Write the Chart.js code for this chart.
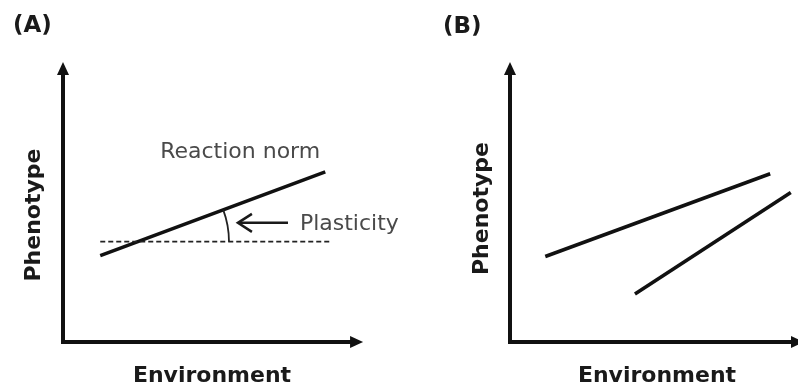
<!DOCTYPE html>
<html>
<head>
<meta charset="utf-8">
<script src="https://cdn.jsdelivr.net/npm/chart.js@4.4.1/dist/chart.umd.min.js"></script>
<style>
  html, body { margin: 0; padding: 0; width: 798px; height: 387px; overflow: hidden; background: #fff; }
  canvas { position: absolute; left: 0; top: 0; }
</style>
</head>
<body>
<canvas id="panelA" width="798" height="387"></canvas>
<canvas id="panelB" width="820" height="387"></canvas>
<script>
// Panel A: a single reaction norm against a flat (non-plastic) reference
const normEnv = [1.25, 8.8];
const normPheno = [3.4, 6.7];
const flatEnv = [1.25, 8.95];
const flatPheno = [3.95, 3.95];

// Panel B: two genotypes with different reaction norms
const genoOneEnv = [1.2, 8.85];
const genoOnePheno = [3.2, 6.3];
const genoTwoEnv = [4.25, 9.55];
const genoTwoPheno = [1.8, 5.6];

const axisTitles = ['Environment', 'Phenotype'];
const panelLabels = ['(A)', '(B)'];
const noteTexts = ['Reaction norm', 'Plasticity'];

Chart.defaults.font.family = '"DejaVu Sans", sans-serif';

const toPoints = (xs, ys) => xs.map((v, i) => ({ x: v, y: ys[i] }));

const segment = (xs, ys, extra = {}) => Object.assign({
  data: toPoints(xs, ys),
  showLine: true,
  borderColor: '#111',
  borderWidth: 3.6,
  pointRadius: 0,
  borderCapStyle: 'butt',
  fill: false
}, extra);

// Axis lines with arrowheads, plus the panel letter
const axesArrows = {
  id: 'axesArrows',
  beforeDatasetsDraw(chart, args, opts) {
    const { ctx, chartArea: a, scales: { x, y } } = chart;
    const head = 13, half = 6;
    const topY = y.getPixelForValue(opts.yEnd);
    const rightX = x.getPixelForValue(opts.xEnd);
    ctx.save();
    ctx.strokeStyle = '#111';
    ctx.fillStyle = '#111';
    ctx.lineWidth = 4;
    ctx.lineJoin = 'miter';
    ctx.beginPath();
    ctx.moveTo(a.left, topY + head - 1);
    ctx.lineTo(a.left, a.bottom);
    ctx.lineTo(rightX - head + 1, a.bottom);
    ctx.stroke();
    ctx.beginPath();
    ctx.moveTo(a.left, topY);
    ctx.lineTo(a.left - half, topY + head);
    ctx.lineTo(a.left + half, topY + head);
    ctx.closePath();
    ctx.fill();
    ctx.beginPath();
    ctx.moveTo(rightX, a.bottom);
    ctx.lineTo(rightX - head, a.bottom - half);
    ctx.lineTo(rightX - head, a.bottom + half);
    ctx.closePath();
    ctx.fill();
    ctx.fillStyle = '#1a1a1a';
    ctx.font = 'bold 23px "DejaVu Sans"';
    ctx.textAlign = 'left';
    ctx.textBaseline = 'middle';
    ctx.fillText(opts.label, opts.labelX, opts.labelY);
    ctx.restore();
  }
};

// Angle between the reaction norm and the flat reference, with its labels
const plasticityNote = {
  id: 'plasticityNote',
  afterDatasetsDraw(chart, args, opts) {
    const { ctx, scales: { x, y } } = chart;
    const x0 = x.getPixelForValue(normEnv[0]), y0 = y.getPixelForValue(normPheno[0]);
    const x1 = x.getPixelForValue(normEnv[1]), y1 = y.getPixelForValue(normPheno[1]);
    const yf = y.getPixelForValue(flatPheno[0]);
    const t = (yf - y0) / (y1 - y0);
    const cx = x0 + t * (x1 - x0);
    const r = x.getPixelForValue(opts.arcAt) - cx;
    const ang = Math.atan2(y1 - y0, x1 - x0);
    ctx.save();
    ctx.strokeStyle = '#222';
    ctx.lineWidth = 1.8;
    ctx.beginPath();
    ctx.arc(cx, yf, r, ang, 0, false);
    ctx.stroke();

    // pointer arrow
    const tipX = x.getPixelForValue(opts.arrowFrom[0]);
    const tailX = x.getPixelForValue(opts.arrowTo[0]);
    const ay = y.getPixelForValue(opts.arrowFrom[1]);
    ctx.strokeStyle = '#1a1a1a';
    ctx.lineWidth = 2.5;
    ctx.lineCap = 'butt';
    ctx.beginPath();
    ctx.moveTo(tailX, ay);
    ctx.lineTo(tipX + 1, ay);
    ctx.stroke();
    ctx.beginPath();
    ctx.moveTo(tipX + 14, ay - 9);
    ctx.lineTo(tipX, ay);
    ctx.lineTo(tipX + 14, ay + 9);
    ctx.stroke();

    ctx.fillStyle = '#4a4a4a';
    ctx.font = '22px "DejaVu Sans"';
    ctx.textAlign = 'left';
    ctx.textBaseline = 'alphabetic';
    ctx.fillText(noteTexts[0], x.getPixelForValue(opts.normLabel[0]), y.getPixelForValue(opts.normLabel[1]));
    ctx.fillText(noteTexts[1], x.getPixelForValue(opts.plastLabel[0]), y.getPixelForValue(opts.plastLabel[1]));
    ctx.restore();
  }
};

const titleFont = { family: '"DejaVu Sans"', size: 22, weight: 'bold', lineHeight: 1 };

function makeScales(yPad) {
  return {
    x: {
      type: 'linear', min: 0, max: 10,
      grid: { display: false, drawTicks: false },
      ticks: { display: false },
      border: { display: false },
      title: { display: true, text: axisTitles[0], font: titleFont, color: '#1a1a1a', padding: { top: 23, bottom: 0 } }
    },
    y: {
      type: 'linear', min: 0, max: 10,
      grid: { display: false, drawTicks: false },
      ticks: { display: false },
      border: { display: false },
      title: { display: true, text: axisTitles[1], font: titleFont, color: '#1a1a1a', padding: { top: 23, bottom: yPad } }
    }
  };
}

const common = {
  responsive: false,
  animation: false,
  events: [],
  plugins: { legend: { display: false }, tooltip: { enabled: false } }
};

new Chart(document.getElementById('panelA'), {
  type: 'scatter',
  data: {
    datasets: [
      segment(flatEnv, flatPheno, { borderColor: '#222', borderWidth: 1.8, borderDash: [5, 3] }),
      segment(normEnv, normPheno)
    ]
  },
  options: Object.assign({}, common, {
    layout: { padding: { left: 0, top: 88, right: 437, bottom: 0 } },
    scales: makeScales(18),
    plugins: Object.assign({}, common.plugins, {
      axesArrows: { yEnd: 11.02, xEnd: 10.07, label: panelLabels[0], labelX: 13, labelY: 26 },
      plasticityNote: {
        arcAt: 5.57,
        arrowFrom: [5.87, 4.69],
        arrowTo: [7.55, 4.69],
        normLabel: [3.26, 7.24],
        plastLabel: [7.95, 4.41]
      }
    })
  }),
  plugins: [axesArrows, plasticityNote]
});

new Chart(document.getElementById('panelB'), {
  type: 'scatter',
  data: {
    datasets: [
      segment(genoOneEnv, genoOnePheno),
      segment(genoTwoEnv, genoTwoPheno)
    ]
  },
  options: Object.assign({}, common, {
    layout: { padding: { left: 448, top: 75, right: 16, bottom: 0 } },
    scales: makeScales(17),
    plugins: Object.assign({}, common.plugins, {
      axesArrows: { yEnd: 10.49, xEnd: 10, label: panelLabels[1], labelX: 443, labelY: 27 }
    })
  }),
  plugins: [axesArrows]
});
</script>
</body>
</html>
